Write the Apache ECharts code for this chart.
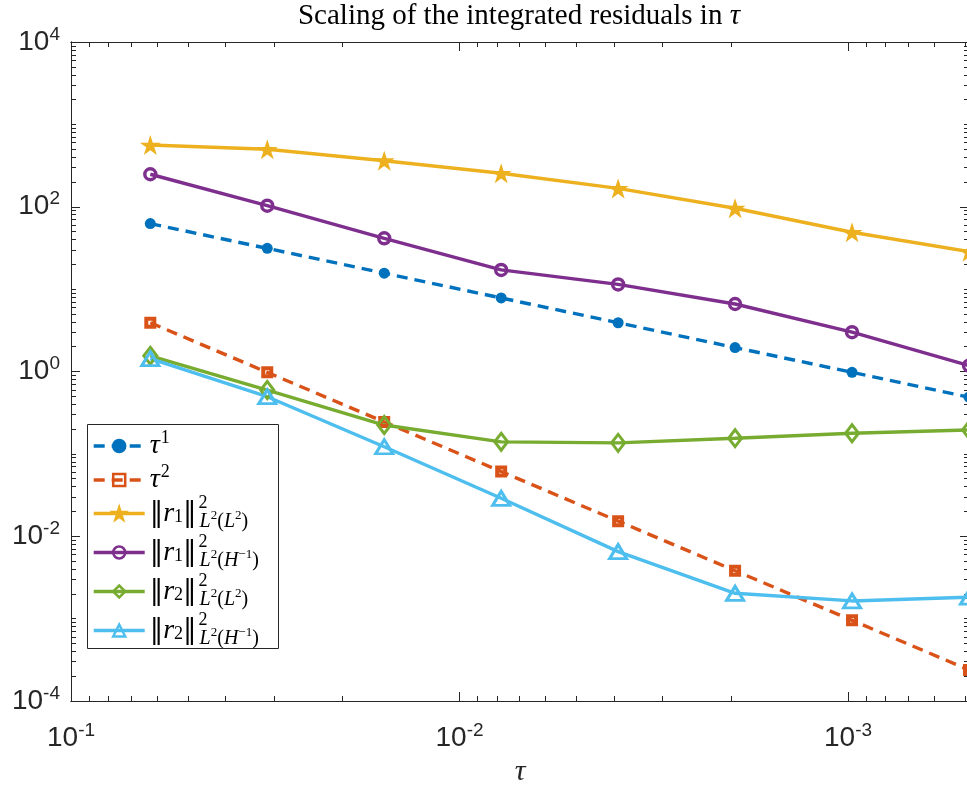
<!DOCTYPE html>
<html>
<head>
<meta charset="utf-8">
<script src="https://cdn.jsdelivr.net/npm/echarts@6/dist/echarts.min.js"></script>
<style>
  html, body { margin: 0; padding: 0; background: #fff; }
  #chart { width: 967px; height: 785px; }
</style>
</head>
<body>
<div id="chart"></div>
<script>
// Step sizes tau = 1/16 ... 1/2048
const TAU = [0.0625, 0.03125, 0.015625, 0.0078125, 0.00390625, 0.001953125, 0.0009765625, 0.00048828125];

// Reference slopes
const TAU1 = [62.5, 31.25, 15.625, 7.8125, 3.90625, 1.953125, 0.9765625, 0.48828125];
const TAU2 = [3.90625, 0.9765625, 0.244140625, 0.06103515625, 0.0152587890625, 0.003814697265625,
              0.00095367431640625, 0.0002384185791015625];

// Integrated residuals
const R1_L2L2 = [562, 498, 362, 255, 167, 96, 49, 28.5];
const R1_L2HM1 = [248, 103, 41.4, 17.1, 11.4, 6.6, 3.0, 1.18];
const R2_L2L2 = [1.55, 0.596, 0.224, 0.140, 0.136, 0.155, 0.178, 0.195];
const R2_L2HM1 = [1.43, 0.494, 0.122, 0.0289, 0.0065, 0.00203, 0.00164, 0.00182];

// Axis ticks
const X_MIN = 0.00048828125, X_MAX = 0.1;
const Y_MIN = 1e-4, Y_MAX = 1e4;
const X_MAJOR = [0.1, 0.01, 0.001];
const X_MINOR = [0.09, 0.08, 0.07, 0.06, 0.05, 0.04, 0.03, 0.02,
                 0.009, 0.008, 0.007, 0.006, 0.005, 0.004, 0.003, 0.002,
                 0.0009, 0.0008, 0.0007, 0.0006, 0.0005];
const Y_MAJOR = [1e-4, 1e-2, 1, 1e2, 1e4];
const Y_MINOR = [
  2e-4, 3e-4, 4e-4, 5e-4, 6e-4, 7e-4, 8e-4, 9e-4, 1e-3,
  2e-3, 3e-3, 4e-3, 5e-3, 6e-3, 7e-3, 8e-3, 9e-3,
  2e-2, 3e-2, 4e-2, 5e-2, 6e-2, 7e-2, 8e-2, 9e-2, 1e-1,
  0.2, 0.3, 0.4, 0.5, 0.6, 0.7, 0.8, 0.9,
  2, 3, 4, 5, 6, 7, 8, 9, 10,
  20, 30, 40, 50, 60, 70, 80, 90,
  200, 300, 400, 500, 600, 700, 800, 900, 1000,
  2000, 3000, 4000, 5000, 6000, 7000, 8000, 9000
];

const AX = '#262626';
const C = {
  blue: '#0072BD', orange: '#D95319', yellow: '#EDB120',
  purple: '#7E2F8E', green: '#77AC30', cyan: '#4DBEEE'
};
const STAR = 'path://M0 -1 L0.2245 -0.309 L0.951 -0.309 L0.363 0.118 L0.588 0.809 L0 0.382 L-0.588 0.809 L-0.363 0.118 L-0.951 -0.309 L-0.2245 -0.309 Z';

const pairs = ys => TAU.map((t, i) => [t, ys[i]]);

const tickLabelRich = {
  b: { fontFamily: 'Liberation Sans', fontSize: 28, color: AX, lineHeight: 34 },
  s: { fontFamily: 'Liberation Sans', fontSize: 19, color: AX, lineHeight: 12, verticalAlign: 'top' }
};
const powLabel = v => '{b|10}{s|' + Math.round(Math.log10(v)) + '}';

function xAxis(position, ticks, len, labels) {
  return {
    type: 'log', logBase: 10, inverse: true, min: X_MIN, max: X_MAX,
    gridIndex: 0, position: position,
    axisLine: { show: true, onZero: false, lineStyle: { color: AX, width: 1 } },
    axisTick: { show: true, inside: true, length: len, customValues: ticks, lineStyle: { color: AX, width: 1 } },
    axisLabel: labels ? {
      show: true, customValues: X_MAJOR, margin: 20, formatter: powLabel, rich: tickLabelRich
    } : { show: false },
    splitLine: { show: false }, minorTick: { show: false }
  };
}
function yAxis(position, ticks, len, labels) {
  return {
    type: 'log', logBase: 10, min: Y_MIN, max: Y_MAX,
    gridIndex: 0, position: position,
    axisLine: { show: true, onZero: false, lineStyle: { color: AX, width: 1 } },
    axisTick: { show: true, inside: true, length: len, customValues: ticks, lineStyle: { color: AX, width: 1 } },
    axisLabel: labels ? {
      show: true, customValues: Y_MAJOR, margin: 11, formatter: powLabel, rich: tickLabelRich
    } : { show: false },
    splitLine: { show: false }, minorTick: { show: false }
  };
}

const xs = [
  xAxis('bottom', X_MAJOR, 9, true),
  xAxis('bottom', X_MINOR, 5, false),
  xAxis('top', X_MAJOR, 9, false),
  xAxis('top', X_MINOR, 5, false)
];
Object.assign(xs[0], {
  name: 'τ', nameLocation: 'middle', nameGap: 55,
  nameTextStyle: { fontFamily: 'Liberation Serif', fontStyle: 'italic', fontSize: 30, color: AX }
});
const ys = [
  yAxis('left', Y_MAJOR, 9, true),
  yAxis('left', Y_MINOR, 5, false),
  yAxis('right', Y_MAJOR, 9, false),
  yAxis('right', Y_MINOR, 5, false)
];

// Legend entries (math typeset with rich text)
const LEGEND_TEXT = {
  'tau1': '{tv|τ}{ts|1}',
  'tau2': '{tv|τ}{ts|2}',
  'r1L2': '{n|‖}{v|r}{i|1}{n|‖}{p|2}{qi|L}{qs|2}{q|(}{qi|L}{qs|2}{q|)}',
  'r1H':  '{n|‖}{v|r}{i|1}{n|‖}{p|2}{qi|L}{qs|2}{q|(}{qi|H}{qs|−1}{q|)}',
  'r2L2': '{n|‖}{v|r}{i|2}{n|‖}{p|2}{qi|L}{qs|2}{q|(}{qi|L}{qs|2}{q|)}',
  'r2H':  '{n|‖}{v|r}{i|2}{n|‖}{p|2}{qi|L}{qs|2}{q|(}{qi|H}{qs|−1}{q|)}'
};
const SERIF = 'Liberation Serif';
const legendRich = {
  tv: { fontFamily: SERIF, fontStyle: 'italic', fontSize: 28, lineHeight: 40, color: '#000' },
  ts: { fontFamily: SERIF, fontSize: 18, lineHeight: 18, verticalAlign: 'top', padding: [3, 0, 0, 1], color: '#000' },
  n:  { fontFamily: 'DejaVu Serif', fontSize: 27, lineHeight: 39, color: '#000' },
  v:  { fontFamily: SERIF, fontStyle: 'italic', fontSize: 28, lineHeight: 39, color: '#000' },
  i:  { fontFamily: SERIF, fontSize: 18, lineHeight: 16, verticalAlign: 'bottom', padding: [0, 0, 7, 0], color: '#000' },
  p:  { fontFamily: SERIF, fontSize: 18, lineHeight: 18, verticalAlign: 'top', width: 1, align: 'left', padding: [0, 0, 0, 2], color: '#000' },
  qi: { fontFamily: SERIF, fontStyle: 'italic', fontSize: 20, lineHeight: 18, verticalAlign: 'bottom', padding: [0, 0, 1, 0], color: '#000' },
  q:  { fontFamily: SERIF, fontSize: 20, lineHeight: 18, verticalAlign: 'bottom', padding: [0, 0, 1, 0], color: '#000' },
  qs: { fontFamily: SERIF, fontSize: 13, lineHeight: 13, verticalAlign: 'bottom', padding: [0, 0, 11, 0], color: '#000' }
};

function lineSeries(name, data, color, dashed, symbol, size, filled, border) {
  return {
    name: name, type: 'line', xAxisIndex: 0, yAxisIndex: 0,
    data: pairs(data),
    symbol: symbol, symbolSize: size, showSymbol: true,
    lineStyle: { color: color, width: 3.4, type: dashed ? [11, 7] : 'solid' },
    itemStyle: filled
      ? { color: color, borderColor: color, borderWidth: 0 }
      : { color: 'rgba(255,255,255,0)', borderColor: color, borderWidth: border },
    emphasis: { disabled: true },
    animation: false, z: 3
  };
}

const chart = echarts.init(document.getElementById('chart'), null, { renderer: 'canvas' });
chart.setOption({
  backgroundColor: '#fff',
  animation: false,
  title: {
    text: 'Scaling of the integrated residuals in {t|τ}',
    left: 514, top: -3, textAlign: 'center',
    textStyle: {
      fontFamily: SERIF, fontWeight: 'normal', fontSize: 29, color: '#000',
      rich: { t: { fontFamily: SERIF, fontStyle: 'italic', fontSize: 29, color: '#000' } }
    }
  },
  grid: { left: 71, top: 42, width: 898, height: 659, containLabel: false, outerBoundsMode: 'none' },
  xAxis: xs,
  yAxis: ys,
  legend: {
    orient: 'vertical', left: 92, top: 426, padding: 0, itemGap: 0,
    itemWidth: 51, itemHeight: 15, z: 6,
    selectedMode: false,
    data: ['tau1', 'tau2', 'r1L2', 'r1H', 'r2L2', 'r2H'],
    formatter: name => LEGEND_TEXT[name],
    lineStyle: { width: 3.4 },
    itemStyle: { borderWidth: 2.5 },
    textStyle: { rich: legendRich }
  },
  graphic: [{
    type: 'rect', z: 5, left: 87, top: 424,
    shape: { width: 191, height: 224 },
    style: { fill: '#fff', stroke: AX, lineWidth: 1 }
  }],
  series: [
    lineSeries('tau1', TAU1, C.blue, true, 'circle', 11, true, 0),
    lineSeries('tau2', TAU2, C.orange, true, 'rect', 8, false, 4),
    lineSeries('r1L2', R1_L2L2, C.yellow, false, STAR, [21, 20], true, 0),
    lineSeries('r1H', R1_L2HM1, C.purple, false, 'circle', 11, false, 3.4),
    lineSeries('r2L2', R2_L2L2, C.green, false, 'diamond', [13, 17], false, 3),
    lineSeries('r2H', R2_L2HM1, C.cyan, false, 'triangle', [17, 14], false, 3)
  ]
});
</script>
</body>
</html>
